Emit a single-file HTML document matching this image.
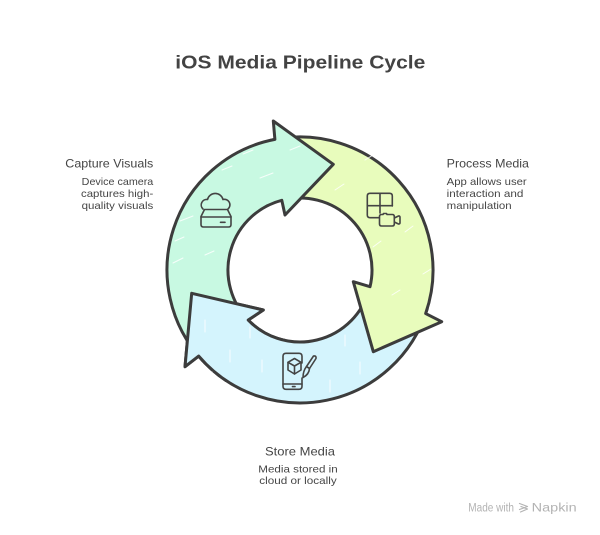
<!DOCTYPE html>
<html>
<head>
<meta charset="utf-8">
<style>
  html, body { margin: 0; padding: 0; background: #ffffff; }
  body { width: 600px; height: 535px; overflow: hidden; }
  svg { display: block; }
  .t { font-family: "Liberation Sans", "DejaVu Sans", sans-serif; }
</style>
</head>
<body>
<svg width="600" height="535" viewBox="0 0 600 535" xmlns="http://www.w3.org/2000/svg">
  <defs>
    <clipPath id="blueHeadClip">
      <rect x="168" y="282" width="118" height="100"/>
    </clipPath>
  </defs>

  <!-- Title -->
  <text class="t" x="300.3" y="68.5" text-anchor="middle" font-size="18" font-weight="bold" fill="#434343" textLength="250" lengthAdjust="spacingAndGlyphs">iOS Media Pipeline Cycle</text>

  <!-- Blue arrow (Store) -->
  <g id="blueArrow">
    <path d="M427.19,308.89 A133,133 0 0 1 198.7,356.1 L185,366.7 L191.7,293.3 L263.3,310 L248.23,320.04 A72,72 0 0 0 368.85,291.05 Z"
          fill="#d4f4fd" stroke="#3c3c3c" stroke-width="3" stroke-linejoin="round"/>
    <g stroke="#ffffff" stroke-width="1" stroke-linecap="round" opacity="0.85">
      <line x1="250" y1="327" x2="250" y2="338"/>
      <line x1="230" y1="350" x2="230" y2="362"/>
      <line x1="262" y1="360" x2="262" y2="372"/>
      <line x1="330" y1="380" x2="330" y2="392"/>
      <line x1="360" y1="362" x2="360" y2="374"/>
      <line x1="395" y1="330" x2="395" y2="340"/>
      <line x1="212" y1="372" x2="212" y2="380"/>
      <line x1="345" y1="335" x2="345" y2="346"/>
    </g>
  </g>

  <!-- Yellow arrow (Process) -->
  <g>
    <path d="M270.08,140.41 A133,133 0 0 1 425.67,313.54 L441.7,321.7 L373.3,351.7 L353.3,281.7 L370.03,286.71 A72,72 0 0 0 283.8,199.85 Z"
          fill="#e8fcbc" stroke="#3c3c3c" stroke-width="3" stroke-linejoin="round"/>
    <g stroke="#ffffff" stroke-width="1" stroke-linecap="round" opacity="0.85">
      <line x1="373" y1="247" x2="381" y2="241"/>
      <line x1="423" y1="274" x2="431" y2="269"/>
      <line x1="335" y1="190" x2="344" y2="184"/>
      <line x1="405" y1="232" x2="413" y2="226"/>
      <line x1="392" y1="295" x2="400" y2="290"/>
      <line x1="365" y1="160" x2="373" y2="155"/>
      <line x1="418" y1="200" x2="425" y2="195"/>
    </g>
  </g>

  <!-- Green arrow (Capture) -->
  <g>
    <path d="M202.73,360.71 A133,133 0 0 1 274.9,139.4 L273.3,121 L333.3,164.3 L285,215 L281.8,200.3 A72,72 0 0 0 247.34,319.1 Z"
          fill="#c8f9e2" stroke="#3c3c3c" stroke-width="3" stroke-linejoin="round"/>
    <g stroke="#ffffff" stroke-width="1" stroke-linecap="round" opacity="0.85">
      <line x1="243" y1="154" x2="253" y2="150"/>
      <line x1="180" y1="221" x2="193" y2="216"/>
      <line x1="175" y1="241" x2="184" y2="237"/>
      <line x1="260" y1="178" x2="273" y2="173"/>
      <line x1="173" y1="263" x2="183" y2="258"/>
      <line x1="222" y1="170" x2="232" y2="166"/>
      <line x1="290" y1="150" x2="300" y2="146"/>
      <line x1="205" y1="255" x2="214" y2="251"/>
    </g>
  </g>

  <!-- Blue arrow head redrawn on top of green tail -->
  <g clip-path="url(#blueHeadClip)">
    <path d="M427.19,308.89 A133,133 0 0 1 198.7,356.1 L185,366.7 L191.7,293.3 L263.3,310 L248.23,320.04 A72,72 0 0 0 368.85,291.05 Z"
          fill="#d4f4fd" stroke="#3c3c3c" stroke-width="3" stroke-linejoin="round"/>
    <g stroke="#ffffff" stroke-width="1" stroke-linecap="round" opacity="0.85">
      <line x1="250" y1="327" x2="250" y2="338"/>
      <line x1="230" y1="350" x2="230" y2="362"/>
      <line x1="262" y1="360" x2="262" y2="372"/>
      <line x1="212" y1="372" x2="212" y2="380"/>
      <line x1="205" y1="320" x2="205" y2="332"/>
    </g>
  </g>

  <!-- Icon: cloud drive -->
  <g fill="none" stroke="#444" stroke-width="1.6" stroke-linecap="round" stroke-linejoin="round">
    <path d="M203,209 A5.5,5.5 0 0 1 207.5,199.5 A8,8 0 0 1 223,199.5 A5.5,5.5 0 0 1 228,209"/>
    <path d="M204.5,209.5 L227.5,209.5 L231,216.5 L231,224.5 Q231,227 228.5,227 L203.5,227 Q201,227 201,224.5 L201,216.5 Z"/>
    <line x1="201" y1="217" x2="231" y2="217"/>
    <line x1="220.5" y1="222.3" x2="225" y2="222.3"/>
  </g>

  <!-- Icon: grid + camera -->
  <g fill="none" stroke="#444" stroke-width="1.6" stroke-linecap="round" stroke-linejoin="round">
    <path d="M379,217.7 L370,217.7 Q367.3,217.7 367.3,215 L367.3,196 Q367.3,193.3 370,193.3 L389.6,193.3 Q392.3,193.3 392.3,196 L392.3,206"/>
    <line x1="380" y1="193.3" x2="380" y2="213"/>
    <line x1="367.3" y1="205.7" x2="392.3" y2="205.7"/>
    <path d="M381.5,214.5 L383,214.5 L383.5,213.5 L386.5,213.5 L387,214.5 L392.3,214.5 Q394.3,214.5 394.3,216.5 L394.3,224 Q394.3,226 392.3,226 L381.5,226 Q379.5,226 379.5,224 L379.5,216.5 Q379.5,214.5 381.5,214.5 Z"/>
    <path d="M394.3,218 L398.5,216 Q400,215.8 400,217.2 L400,222.8 Q400,224.2 398.5,224 L394.3,222"/>
  </g>

  <!-- Icon: phone with cube and brush -->
  <g fill="none" stroke="#444" stroke-width="1.6" stroke-linecap="round" stroke-linejoin="round">
    <path d="M302,363 L302,356.3 Q302,353.3 299,353.3 L286,353.3 Q283,353.3 283,356.3 L283,386.3 Q283,389.3 286,389.3 L299,389.3 Q302,389.3 302,386.3 L302,378"/>
    <line x1="283" y1="384" x2="302" y2="384"/>
    <line x1="292.5" y1="386.6" x2="295" y2="386.6"/>
    <path d="M294.5,358.5 L301,362.3 L301,370 L294.5,374 L288,370 L288,362.3 Z"/>
    <path d="M288,362.3 L294.5,366 L301,362.3 M294.5,366 L294.5,374"/>
    <path d="M313.5,356 Q316.5,355.5 316,358.5 L309.5,368.5 L306.5,366.5 Z"/>
    <path d="M306.5,366.5 L309.5,368.5 Q309,374.5 303,377.5 Q303,371 306.5,366.5 Z"/>
  </g>

  <!-- Capture Visuals -->
  <text class="t" x="153.3" y="167.7" text-anchor="end" font-size="12" fill="#454545" textLength="88" lengthAdjust="spacingAndGlyphs">Capture Visuals</text>
  <text class="t" x="153.3" y="185" text-anchor="end" font-size="10.5" fill="#454545" textLength="71.6" lengthAdjust="spacingAndGlyphs">Device camera</text>
  <text class="t" x="153.3" y="197" text-anchor="end" font-size="10.5" fill="#454545" textLength="72.3" lengthAdjust="spacingAndGlyphs">captures high-</text>
  <text class="t" x="153.3" y="209" text-anchor="end" font-size="10.5" fill="#454545" textLength="71.7" lengthAdjust="spacingAndGlyphs">quality visuals</text>

  <!-- Process Media -->
  <text class="t" x="446.7" y="167.7" font-size="12" fill="#454545" textLength="82.3" lengthAdjust="spacingAndGlyphs">Process Media</text>
  <text class="t" x="446.7" y="185" font-size="10.5" fill="#454545" textLength="80" lengthAdjust="spacingAndGlyphs">App allows user</text>
  <text class="t" x="446.7" y="197" font-size="10.5" fill="#454545" textLength="76.7" lengthAdjust="spacingAndGlyphs">interaction and</text>
  <text class="t" x="446.7" y="209" font-size="10.5" fill="#454545" textLength="65" lengthAdjust="spacingAndGlyphs">manipulation</text>

  <!-- Store Media -->
  <text class="t" x="300" y="455.7" text-anchor="middle" font-size="12" fill="#454545" textLength="70" lengthAdjust="spacingAndGlyphs">Store Media</text>
  <text class="t" x="298" y="472.5" text-anchor="middle" font-size="10.5" fill="#454545" textLength="79.4" lengthAdjust="spacingAndGlyphs">Media stored in</text>
  <text class="t" x="298" y="484" text-anchor="middle" font-size="10.5" fill="#454545" textLength="77.4" lengthAdjust="spacingAndGlyphs">cloud or locally</text>

  <!-- Made with Napkin -->
  <text class="t" x="468.3" y="511.5" font-size="11.5" fill="#b3b3b3" textLength="45.7" lengthAdjust="spacingAndGlyphs">Made with</text>
  <g fill="none" stroke="#b3b3b3" stroke-width="1.2" stroke-linecap="round" stroke-linejoin="round">
    <path d="M519.5,503.5 L527.5,506.5 L519.5,509.5 M521,506.5 L527.5,509 L520.5,512"/>
  </g>
  <text class="t" x="531.7" y="511.5" font-size="11.5" fill="#b3b3b3" textLength="45" lengthAdjust="spacingAndGlyphs">Napkin</text>
</svg>
</body>
</html>
